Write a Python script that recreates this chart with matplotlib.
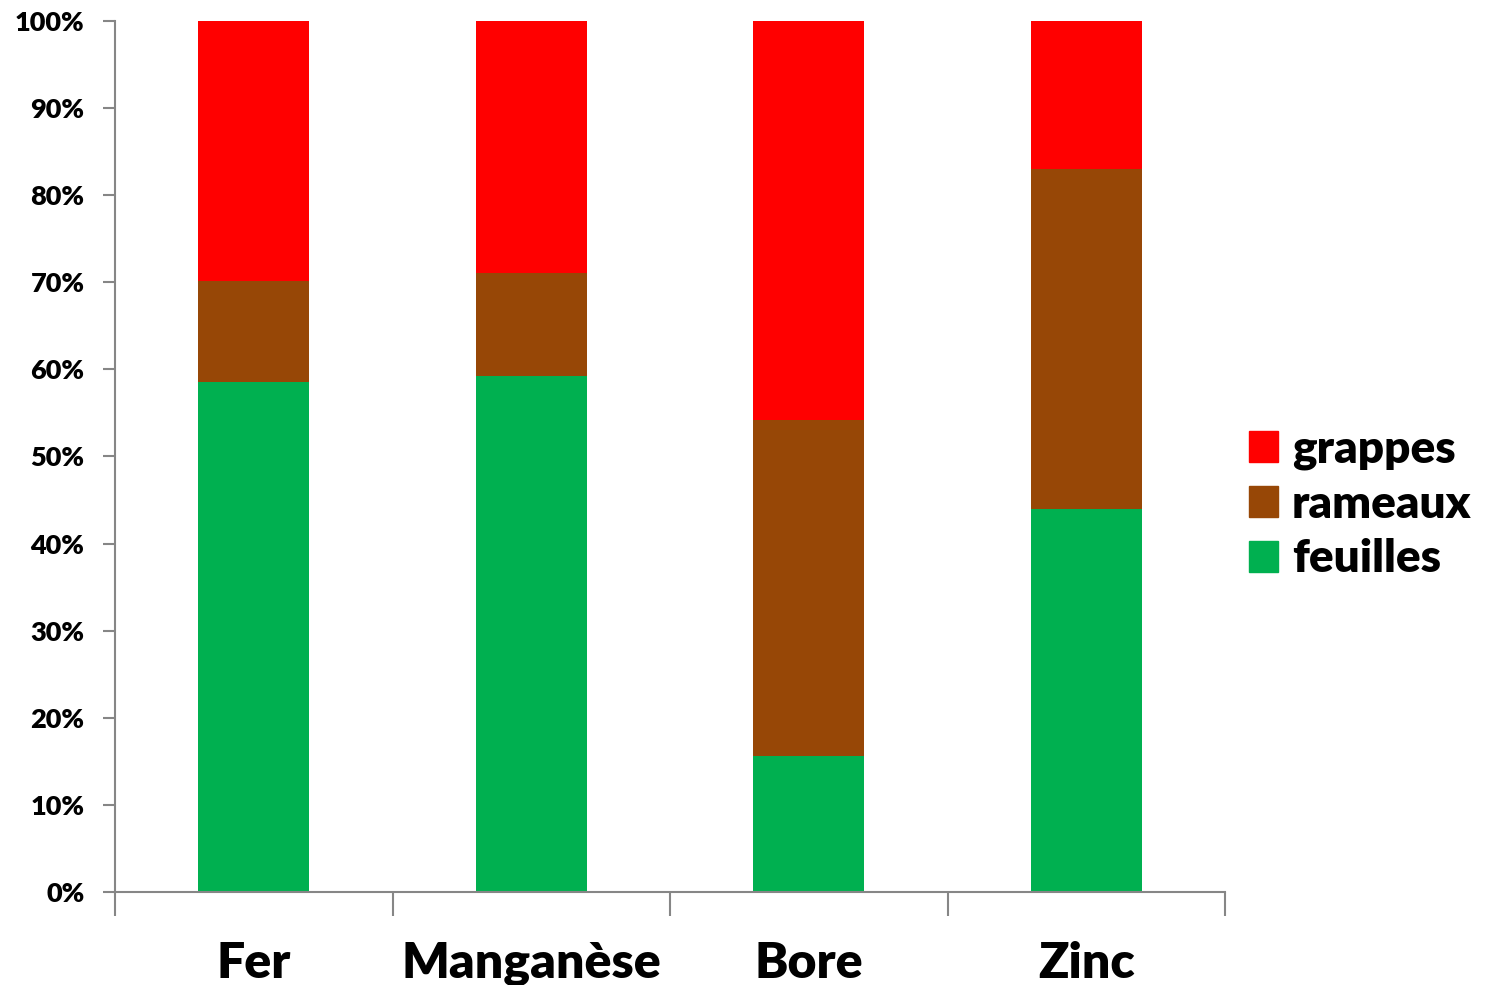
import numpy as np
import matplotlib
matplotlib.use("Agg")
import matplotlib.pyplot as plt
from matplotlib.ticker import PercentFormatter
from matplotlib.patches import Patch

plt.rcParams['font.family'] = ['Lato', 'DejaVu Sans']
plt.rcParams['font.weight'] = 'heavy'

# share of each element (%) found in leaves, shoots and bunches
elements = ["Fer", "Manganèse", "Bore", "Zinc"]
feuilles = [58.6, 59.2, 15.6, 44.0]
rameaux = [11.5, 11.9, 38.6, 39.0]
grappes = [29.9, 28.9, 45.8, 17.0]

c_feuilles = "#00b050"
c_rameaux = "#974706"
c_grappes = "#ff0000"
grey = "#868686"

fig = plt.figure(figsize=(15.01, 9.85), dpi=100)
ax = fig.add_axes([115 / 1501, 93 / 985, 1110 / 1501, 871 / 985])

x = np.arange(len(elements))
w = 0.4
bottom = np.zeros(len(elements))
for vals, col in [(feuilles, c_feuilles), (rameaux, c_rameaux), (grappes, c_grappes)]:
    ax.bar(x, vals, w, bottom=bottom, color=col, linewidth=0)
    bottom += np.array(vals)

ax.set_xlim(-0.5, len(elements) - 0.5)
ax.set_ylim(0, 100)
ax.set_yticks(np.arange(0, 101, 10))
ax.yaxis.set_major_formatter(PercentFormatter(decimals=0))

# category labels centred, ticks on the boundaries
ax.set_xticks(np.arange(-0.5, len(elements)), minor=False)
ax.set_xticklabels([])
ax.set_xticks(x, minor=True)
ax.set_xticklabels(elements, minor=True, fontsize=36, fontweight='heavy')
ax.tick_params(axis='x', which='major', length=17, width=1.5, color=grey, direction='out')
ax.tick_params(axis='x', which='minor', length=0, pad=35)
ax.tick_params(axis='y', length=9, width=1.5, color=grey, labelsize=19.5, pad=13)
for lab in ax.get_yticklabels():
    lab.set_fontweight('heavy')

for s in ['top', 'right']:
    ax.spines[s].set_visible(False)
for s in ['left', 'bottom']:
    ax.spines[s].set_color(grey)
    ax.spines[s].set_linewidth(1.5)

handles = [Patch(color=c_grappes, label="grappes"),
           Patch(color=c_rameaux, label="rameaux"),
           Patch(color=c_feuilles, label="feuilles")]
leg = fig.legend(handles=handles, loc='center left', bbox_to_anchor=(1249 / 1501, 1 - 504 / 985),
                 frameon=False, borderpad=0, borderaxespad=0,
                 handlelength=0.64, handleheight=0.64, handletextpad=0.3,
                 labelspacing=0.3, prop={'weight': 'heavy', 'size': 33})

fig.savefig("out.png", dpi=100)
